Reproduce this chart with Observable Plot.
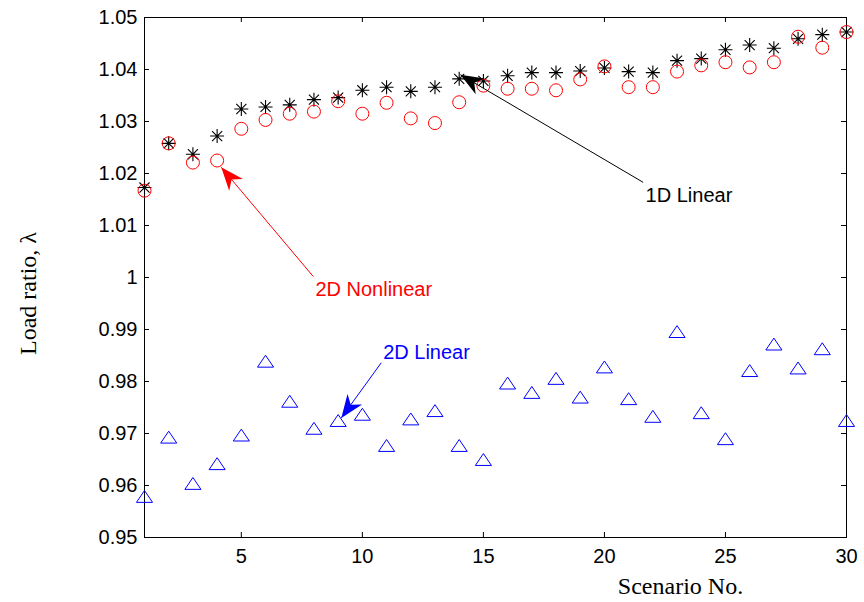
<!DOCTYPE html>
<html>
<head>
<meta charset="utf-8">
<script src="https://cdn.jsdelivr.net/npm/d3@7"></script>
<script src="https://cdn.jsdelivr.net/npm/@observablehq/plot@0.6"></script>
<style>
  html, body { margin: 0; padding: 0; background: #fff; }
</style>
</head>
<body>
<div id="chart"></div>
<script>
// ---- data ----
const scenarios = d3.range(1, 31);
const linear1D = [1.0173, 1.0258, 1.0237, 1.0272, 1.0324, 1.0328, 1.0332, 1.0342, 1.0346, 1.0360,
                  1.0366, 1.0358, 1.0366, 1.0382, 1.0378, 1.0388, 1.0394, 1.0394, 1.0397, 1.0403,
                  1.0396, 1.0394, 1.0417, 1.0421, 1.0438, 1.0447, 1.0441, 1.0459, 1.0467, 1.0472];
const nonlinear2D = [1.0167, 1.0258, 1.0221, 1.0225, 1.0286, 1.0303, 1.0315, 1.0319, 1.0339, 1.0315,
                     1.0336, 1.0306, 1.0297, 1.0337, 1.0369, 1.0363, 1.0363, 1.0360, 1.0381, 1.0406,
                     1.0366, 1.0366, 1.0396, 1.0408, 1.0414, 1.0404, 1.0414, 1.0463, 1.0442, 1.0472];
const linear2D = [0.9579, 0.9693, 0.9604, 0.9642, 0.9697, 0.9839, 0.9762, 0.9710, 0.9725, 0.9737,
                  0.9677, 0.9728, 0.9744, 0.9677, 0.9650, 0.9797, 0.9779, 0.9806, 0.9770, 0.9828,
                  0.9767, 0.9733, 0.9896, 0.9740, 0.9690, 0.9821, 0.9872, 0.9826, 0.9863, 0.9725];
const xTicks = [5, 10, 15, 20, 25, 30];
const yTicks = [0.95, 0.96, 0.97, 0.98, 0.99, 1.00, 1.01, 1.02, 1.03, 1.04, 1.05];
const annLabels = ["1D Linear", "2D Nonlinear", "2D Linear"];
const annColors = ["#000000", "#ff0000", "#0000ff"];
const annTextX = [21.70, 8.06, 10.86];
const annTextY = [1.0158, 0.9977, 0.9856];
const arrowX1 = [21.60, 7.97, 10.78];
const arrowY1 = [1.0183, 1.0002, 0.9836];
const arrowX2 = [14.05, 4.17, 9.13];
const arrowY2 = [1.0390, 1.0212, 0.9730];

// ---- layout ----
const W = 864, H = 602;
const mL = 144, mR = 18, mT = 17, mB = 65;
const xDomain = [1, 30], yDomain = [0.95, 1.05];

const toRows = (vals) => scenarios.map((s, i) => ({x: s, y: vals[i]}));
const annotations = annLabels.map((t, i) => ({
  text: t, color: annColors[i], tx: annTextX[i], ty: annTextY[i],
  x1: arrowX1[i], y1: arrowY1[i], x2: arrowX2[i], y2: arrowY2[i]
}));

// angle of arrows in screen space (same mapping as the plot scales)
const sx = d3.scaleLinear().domain(xDomain).range([mL, W - mR]);
const sy = d3.scaleLinear().domain(yDomain).range([H - mB, mT]);
annotations.forEach(a => {
  a.angle = Math.atan2(sy(a.y2) - sy(a.y1), sx(a.x2) - sx(a.x1)) * 180 / Math.PI;
});

// ---- custom symbols ----
const starSymbol = {draw(ctx, size) {
  const r = Math.sqrt(size / Math.PI), d = r * 0.72;
  ctx.moveTo(-r, 0); ctx.lineTo(r, 0);
  ctx.moveTo(0, -r); ctx.lineTo(0, r);
  ctx.moveTo(-d, -d); ctx.lineTo(d, d);
  ctx.moveTo(-d, d); ctx.lineTo(d, -d);
}};
const triSymbol = {draw(ctx, size) {
  const r = Math.sqrt(size / Math.PI);
  ctx.moveTo(0, -0.85 * r);
  ctx.lineTo(1.15 * r, 0.85 * r);
  ctx.lineTo(-1.15 * r, 0.85 * r);
  ctx.closePath();
}};
const headSymbol = {draw(ctx, size) {
  const L = 23, Wd = 18;
  ctx.moveTo(0, 0);
  ctx.lineTo(-L, -Wd / 2);
  ctx.lineTo(-0.7 * L, 0);
  ctx.lineTo(-L, Wd / 2);
  ctx.closePath();
}};

const sans = "'Liberation Sans', Arial, sans-serif";
const serif = "'Liberation Serif', 'Times New Roman', serif";

const chart = Plot.plot({
  width: W, height: H,
  marginLeft: mL, marginRight: mR, marginTop: mT, marginBottom: mB,
  style: {fontFamily: sans, fontSize: "20px", color: "#000", background: "#fff", overflow: "visible"},
  x: {domain: xDomain},
  y: {domain: yDomain},
  marks: [
    Plot.frame({stroke: "#000", strokeWidth: 1}),
    // inward tick marks on all four sides
    Plot.ruleY(yTicks, {y: d => d, stroke: "#000", insetRight: W - mL - mR - 5}),
    Plot.ruleY(yTicks, {y: d => d, stroke: "#000", insetLeft: W - mL - mR - 5}),
    Plot.ruleX(xTicks, {x: d => d, stroke: "#000", insetTop: H - mT - mB - 5}),
    Plot.ruleX(xTicks, {x: d => d, stroke: "#000", insetBottom: H - mT - mB - 5}),
    Plot.axisX({ticks: xTicks, tickSize: 0, tickPadding: 11, label: null, fontSize: 20}),
    Plot.axisY({ticks: yTicks, tickSize: 0, tickPadding: 7, label: null, fontSize: 20,
                tickFormat: d => String(+d.toFixed(2))}),
    // data
    Plot.dot(toRows(linear2D), {x: "x", y: "y", symbol: triSymbol, r: 7, stroke: "#0000ff", fill: "none", strokeWidth: 1}),
    Plot.dot(toRows(linear1D), {x: "x", y: "y", symbol: starSymbol, r: 7, stroke: "#000", fill: "none", strokeWidth: 1.1}),
    Plot.dot(toRows(nonlinear2D), {x: "x", y: "y", symbol: "circle", r: 6.5, stroke: "#ff0000", fill: "none", strokeWidth: 1}),
    // annotations
    Plot.link(annotations, {x1: "x1", y1: "y1", x2: "x2", y2: "y2", stroke: "color", strokeWidth: 1}),
    Plot.dot(annotations, {x: "x2", y: "y2", symbol: headSymbol, r: 5, fill: "color", stroke: "none", rotate: "angle"}),
    Plot.text(annotations, {x: "tx", y: "ty", text: "text", fill: "color", textAnchor: "start",
                            fontSize: 20, fontFamily: sans}),
    // axis titles
    Plot.text(["Load ratio, \u03bb"], {frameAnchor: "left", textAnchor: "middle", lineAnchor: "middle",
                                       dx: -116, dy: 16, rotate: -90,
                                       fontFamily: serif, fontSize: 24, fill: "#000"}),
    Plot.text(["Scenario No."], {frameAnchor: "bottom", textAnchor: "middle", lineAnchor: "middle",
                                 dx: 185, dy: 49,
                                 fontFamily: serif, fontSize: 24, fill: "#000"})
  ]
});
document.getElementById("chart").appendChild(chart);
</script>
</body>
</html>
